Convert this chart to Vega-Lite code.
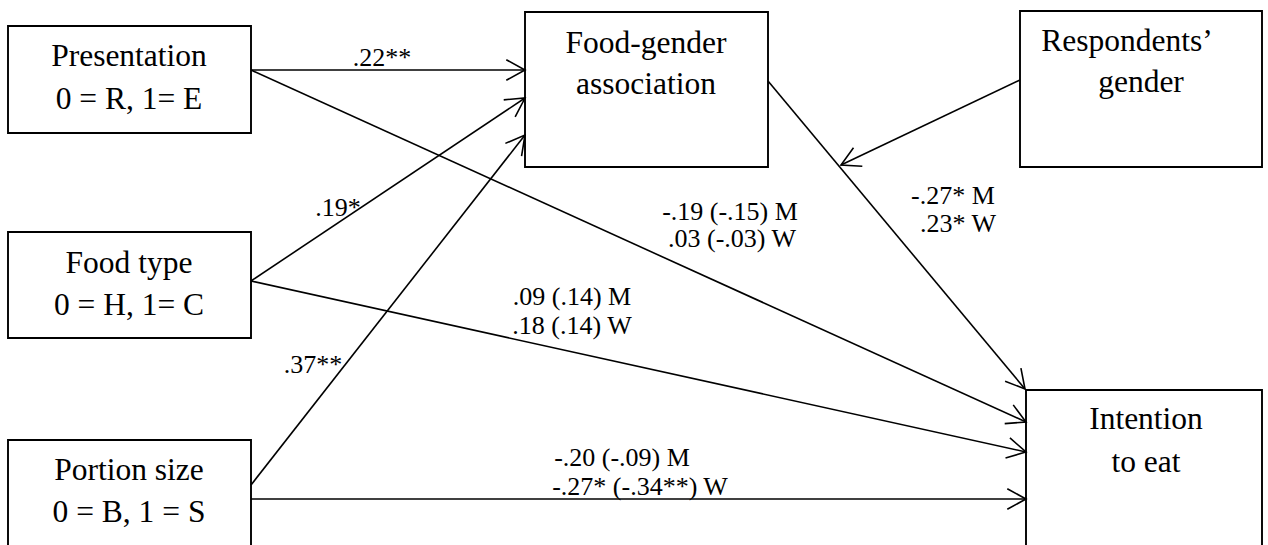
{
  "$schema": "https://vega.github.io/schema/vega-lite/v6.json",
  "width": 1268,
  "height": 545,
  "padding": 0,
  "autosize": {"type": "fit", "contains": "padding"},
  "background": "white",
  "config": {"view": {"stroke": null}},
  "datasets": {
    "nodes": [
      {"node": "Presentation", "left": 8, "right": 251, "top": 26, "bottom": 133},
      {"node": "Food type", "left": 8, "right": 251, "top": 232, "bottom": 338},
      {"node": "Portion size", "left": 8, "right": 251, "top": 440, "bottom": 580},
      {"node": "Food-gender association", "left": 525, "right": 768, "top": 12, "bottom": 167},
      {"node": "Respondents’ gender", "left": 1020, "right": 1262, "top": 11, "bottom": 167},
      {"node": "Intention to eat", "left": 1026, "right": 1262, "top": 390, "bottom": 580}
    ],
    "edges": [
      {"path": "Presentation → Food-gender", "sx": 251, "sy": 70, "tx": 525, "ty": 70},
      {"path": "Presentation → Intention", "sx": 251, "sy": 70, "tx": 1026, "ty": 422},
      {"path": "Food type → Food-gender", "sx": 251, "sy": 281, "tx": 525, "ty": 98},
      {"path": "Food type → Intention", "sx": 251, "sy": 281, "tx": 1026, "ty": 452},
      {"path": "Portion size → Food-gender", "sx": 251, "sy": 485, "tx": 525, "ty": 135},
      {"path": "Portion size → Intention", "sx": 251, "sy": 499, "tx": 1026, "ty": 499},
      {"path": "Food-gender → Intention", "sx": 768, "sy": 81, "tx": 1025, "ty": 389},
      {"path": "Gender moderates", "sx": 1020, "sy": 80, "tx": 841, "ty": 165}
    ],
    "labels": [
      {"text": "Presentation", "x": 129, "y": 57, "kind": "node"},
      {"text": "0 = R, 1= E", "x": 129, "y": 100, "kind": "node"},
      {"text": "Food type", "x": 129, "y": 264, "kind": "node"},
      {"text": "0 = H, 1= C", "x": 129, "y": 306, "kind": "node"},
      {"text": "Portion size", "x": 129, "y": 471, "kind": "node"},
      {"text": "0 = B, 1 = S", "x": 129, "y": 513, "kind": "node"},
      {"text": "Food-gender", "x": 646, "y": 44, "kind": "node"},
      {"text": "association", "x": 646, "y": 85, "kind": "node"},
      {"text": "Respondents’", "x": 1127, "y": 42, "kind": "node"},
      {"text": "gender", "x": 1141, "y": 83, "kind": "node"},
      {"text": "Intention", "x": 1146, "y": 420, "kind": "node"},
      {"text": "to eat", "x": 1146, "y": 463, "kind": "node"},
      {"text": ".22**", "x": 382, "y": 58, "kind": "coef"},
      {"text": ".19*", "x": 338, "y": 208, "kind": "coef"},
      {"text": ".37**", "x": 313, "y": 365, "kind": "coef"},
      {"text": "-.19 (-.15) M", "x": 730, "y": 212, "kind": "coef"},
      {"text": ".03 (-.03) W", "x": 732, "y": 239, "kind": "coef"},
      {"text": ".09 (.14) M", "x": 572, "y": 297, "kind": "coef"},
      {"text": ".18 (.14) W", "x": 572, "y": 326, "kind": "coef"},
      {"text": "-.20 (-.09) M", "x": 622, "y": 458, "kind": "coef"},
      {"text": "-.27* (-.34**) W", "x": 640, "y": 487, "kind": "coef"},
      {"text": "-.27* M", "x": 953, "y": 196, "kind": "coef"},
      {"text": ".23* W", "x": 958, "y": 224, "kind": "coef"}
    ]
  },
  "layer": [
    {
      "data": {"name": "edges"},
      "mark": {"type": "rule", "color": "black", "strokeWidth": 1.6},
      "encoding": {
        "x": {"field": "sx", "type": "quantitative", "scale": {"domain": [0, 1268], "nice": false, "zero": false}, "axis": null},
        "y": {"field": "sy", "type": "quantitative", "scale": {"domain": [0, 545], "reverse": true, "nice": false, "zero": false}, "axis": null},
        "x2": {"field": "tx"},
        "y2": {"field": "ty"}
      }
    },
    {
      "data": {"name": "edges"},
      "transform": [
        {"calculate": "atan2(datum.ty - datum.sy, datum.tx - datum.sx) * 180 / PI", "as": "heading"}
      ],
      "mark": {"type": "point", "shape": "M-1,-0.55L0,0L-1,0.55", "filled": false, "color": "black", "opacity": 1, "strokeWidth": 1.6, "size": 1400, "strokeJoin": "miter"},
      "encoding": {
        "x": {"field": "tx", "type": "quantitative", "scale": {"domain": [0, 1268], "nice": false, "zero": false}, "axis": null},
        "y": {"field": "ty", "type": "quantitative", "scale": {"domain": [0, 545], "reverse": true, "nice": false, "zero": false}, "axis": null},
        "angle": {"field": "heading", "type": "quantitative", "scale": null}
      }
    },
    {
      "data": {"name": "nodes"},
      "mark": {"type": "rect", "fill": "white", "fillOpacity": 0, "stroke": "black", "strokeWidth": 1.9, "clip": true},
      "encoding": {
        "x": {"field": "left", "type": "quantitative", "scale": {"domain": [0, 1268], "nice": false, "zero": false}, "axis": null},
        "x2": {"field": "right"},
        "y": {"field": "top", "type": "quantitative", "scale": {"domain": [0, 545], "reverse": true, "nice": false, "zero": false}, "axis": null},
        "y2": {"field": "bottom"}
      }
    },
    {
      "data": {"name": "labels"},
      "transform": [{"filter": "datum.kind === 'node'"}],
      "mark": {"type": "text", "font": "'Liberation Serif', 'Times New Roman', 'DejaVu Serif', serif", "fontSize": 31.5, "align": "center", "baseline": "middle", "color": "black"},
      "encoding": {
        "x": {"field": "x", "type": "quantitative", "scale": {"domain": [0, 1268], "nice": false, "zero": false}, "axis": null},
        "y": {"field": "y", "type": "quantitative", "scale": {"domain": [0, 545], "reverse": true, "nice": false, "zero": false}, "axis": null},
        "text": {"field": "text"}
      }
    },
    {
      "data": {"name": "labels"},
      "transform": [{"filter": "datum.kind === 'coef'"}],
      "mark": {"type": "text", "font": "'Liberation Serif', 'Times New Roman', 'DejaVu Serif', serif", "fontSize": 26, "align": "center", "baseline": "middle", "color": "black"},
      "encoding": {
        "x": {"field": "x", "type": "quantitative", "scale": {"domain": [0, 1268], "nice": false, "zero": false}, "axis": null},
        "y": {"field": "y", "type": "quantitative", "scale": {"domain": [0, 545], "reverse": true, "nice": false, "zero": false}, "axis": null},
        "text": {"field": "text"}
      }
    }
  ]
}
